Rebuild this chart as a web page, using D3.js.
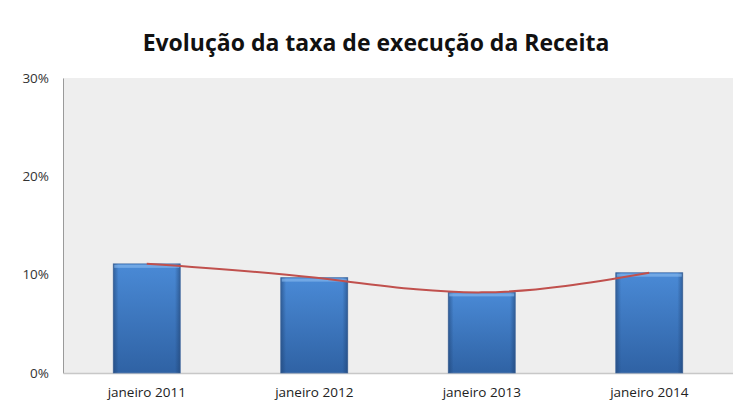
<!DOCTYPE html>
<html>
<head>
<meta charset="utf-8">
<script src="https://cdn.jsdelivr.net/npm/d3@7"></script>
<style>
  body { margin: 0; background: #fff; }
  text { font-family: "Open Sans", "DejaVu Sans", sans-serif; }
</style>
</head>
<body>
<script>
const w = 733;
const h = 406;

// data
const categories = ["janeiro 2011", "janeiro 2012", "janeiro 2013", "janeiro 2014"];
const taxa = [0.111, 0.097, 0.082, 0.102];
const yTicks = [0, 0.1, 0.2, 0.3];

const margin = {top: 78, right: 0, bottom: 33, left: 63};

const svg = d3.select("body")
    .append("svg")
    .attr("width", w)
    .attr("height", h);

// gradient for the bars
const defs = svg.append("defs");
const grad = defs.append("linearGradient")
    .attr("id", "barGrad")
    .attr("x1", 0).attr("y1", 0).attr("x2", 0).attr("y2", 1);
grad.append("stop").attr("offset", "0%").attr("stop-color", "#4a8ad6");
grad.append("stop").attr("offset", "100%").attr("stop-color", "#2f62a4");

const side = defs.append("linearGradient")
    .attr("id", "sideGrad")
    .attr("x1", 0).attr("y1", 0).attr("x2", 1).attr("y2", 0);
side.append("stop").attr("offset", "0%").attr("stop-color", "#1d3f6e").attr("stop-opacity", 0.55);
side.append("stop").attr("offset", "8%").attr("stop-color", "#1d3f6e").attr("stop-opacity", 0);
side.append("stop").attr("offset", "92%").attr("stop-color", "#1d3f6e").attr("stop-opacity", 0);
side.append("stop").attr("offset", "100%").attr("stop-color", "#1d3f6e").attr("stop-opacity", 0.55);

// title
svg.append("text")
    .attr("x", 376)
    .attr("y", 51)
    .attr("text-anchor", "middle")
    .style("font-size", "23px")
    .style("font-weight", "bold")
    .style("fill", "#111")
    .text("Evolução da taxa de execução da Receita");

const xScale = d3.scaleBand()
    .domain(categories)
    .range([margin.left, w - margin.right])
    .paddingInner(0.6)
    .paddingOuter(0.3);

const yScale = d3.scaleLinear()
    .domain([0, 0.3])
    .range([h - margin.bottom, margin.top]);

// plot area
svg.append("rect")
    .attr("x", margin.left)
    .attr("y", margin.top)
    .attr("width", w - margin.right - margin.left)
    .attr("height", h - margin.bottom - margin.top)
    .attr("fill", "#eeeeee");

// axes
const yAxis = d3.axisLeft(yScale)
    .tickValues(yTicks)
    .tickFormat(d3.format(".0%"))
    .tickSize(0)
    .tickPadding(14);
const gy = svg.append("g")
    .attr("transform", "translate(" + margin.left + ",0)")
    .call(yAxis);
gy.select(".domain").attr("stroke", "#9a9a9a");
gy.selectAll("text").style("font-size", "13.5px").style("fill", "#333");

const xAxis = d3.axisBottom(xScale).tickSize(0).tickPadding(14);
const gx = svg.append("g")
    .attr("transform", "translate(0," + (h - margin.bottom) + ")")
    .call(xAxis);
gx.select(".domain").attr("stroke", "#c8c8c8").attr("stroke-width", 1.5);
gx.selectAll("text").style("font-size", "13.5px").style("fill", "#222");

// bars
const bars = svg.selectAll(".bar")
    .data(taxa)
    .enter()
    .append("g")
    .attr("class", "bar");

bars.append("rect")
    .attr("x", (d, i) => xScale(categories[i]))
    .attr("y", d => yScale(d))
    .attr("width", xScale.bandwidth())
    .attr("height", d => yScale(0) - yScale(d))
    .attr("fill", "url(#barGrad)")
    .attr("stroke", "#5c7fae")
    .attr("stroke-width", 0.8);

bars.append("rect")
    .attr("x", (d, i) => xScale(categories[i]))
    .attr("y", d => yScale(d))
    .attr("width", xScale.bandwidth())
    .attr("height", d => yScale(0) - yScale(d))
    .attr("fill", "url(#sideGrad)");

// light bevel at the top of each bar
bars.append("rect")
    .attr("x", (d, i) => xScale(categories[i]) + 1)
    .attr("y", d => yScale(d) + 1)
    .attr("width", xScale.bandwidth() - 2)
    .attr("height", 3)
    .attr("fill", "#8cbcf0")
    .attr("opacity", 0.6);

// trend line through the bar values
const line = d3.line()
    .x((d, i) => xScale(categories[i]) + xScale.bandwidth() / 2)
    .y(d => yScale(d))
    .curve(d3.curveNatural);

svg.append("path")
    .datum(taxa)
    .attr("d", line)
    .attr("fill", "none")
    .attr("stroke", "#c0504d")
    .attr("stroke-width", 2);
</script>
</body>
</html>
